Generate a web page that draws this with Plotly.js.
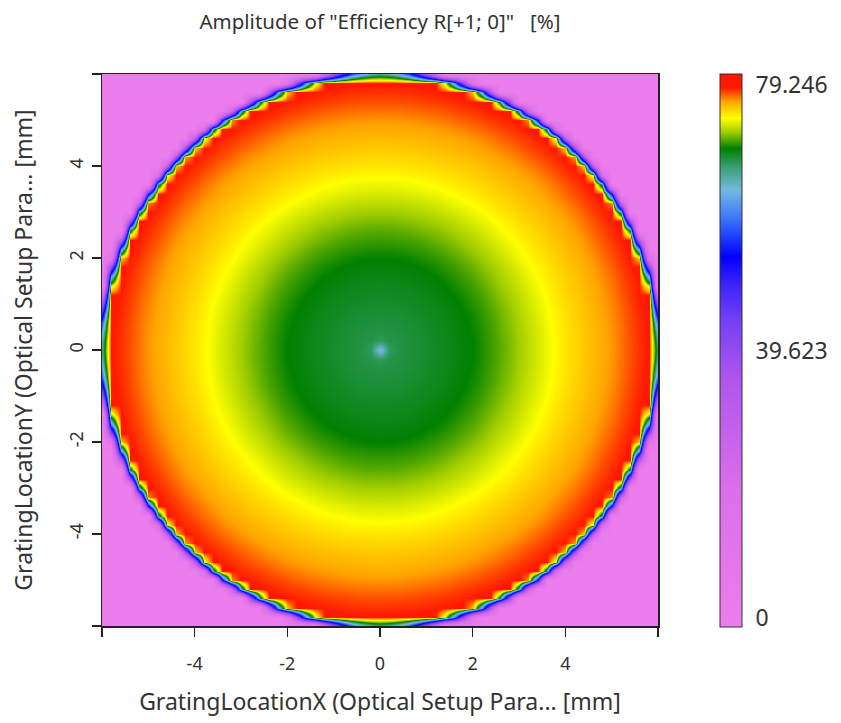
<!DOCTYPE html>
<html><head><meta charset="utf-8">
<script src="https://cdn.plot.ly/plotly-3.0.1.min.js"></script>
<style>html,body{margin:0;padding:0;background:#fff;}</style>
</head><body><div id="chart" style="width:841px;height:723px;"></div>
<script>
// Radial profile of the efficiency (radius in mm -> value in %)
const profileRadius = [0, 0.2, 0.3, 0.5, 1.0, 1.5, 2.0, 2.5, 3.0, 3.5, 4.0, 4.5, 5.0, 5.5, 5.92, 5.98, 6.04, 6.1, 6.16];
const profileValue  = [63.0, 67.6, 68.2, 68.3, 68.8, 69.3, 69.9, 71.0, 72.4, 73.8, 75.1, 76.1, 77.1, 78.4, 79.246, 72.0, 55.0, 30.0, 0];
const outsideValue = 0;
const gridMin = -6, gridMax = 6, gridCount = 61;

const axisTickVals = [-6, -4, -2, 0, 2, 4, 6];
const axisTickText = ['', '-4', '-2', '0', '2', '4', ''];
const cbTickVals = [0, 39.623, 79.246];
const cbTickText = ['0', '39.623', '79.246'];

const titleText = 'Amplitude of "Efficiency R[+1; 0]"\u00a0\u00a0 [%]';
const xTitle = 'GratingLocationX (Optical Setup Para... [mm]';
const yTitle = 'GratingLocationY (Optical Setup Para... [mm]';

function profileAt(r) {
  const last = profileRadius.length - 1;
  if (r >= profileRadius[last]) return outsideValue;
  for (let i = 1; i <= last; i++) {
    if (r <= profileRadius[i]) {
      const t = (r - profileRadius[i-1]) / (profileRadius[i] - profileRadius[i-1]);
      return profileValue[i-1] + t * (profileValue[i] - profileValue[i-1]);
    }
  }
  return outsideValue;
}

const gx = [];
for (let i = 0; i < gridCount; i++) gx.push(gridMin + i * (gridMax - gridMin) / (gridCount - 1));
const gy = gx.slice();
const z = gy.map(y => gx.map(x => profileAt(Math.hypot(x, y))));

const colorscale = [
  [0, 'rgb(236,126,236)'],
  [0.25, 'rgb(220,110,234)'],
  [0.45, 'rgb(175,85,238)'],
  [0.55, 'rgb(120,65,245)'],
  [0.62, 'rgb(60,35,250)'],
  [0.67, 'rgb(0,0,255)'],
  [0.74, 'rgb(60,120,250)'],
  [0.79, 'rgb(115,185,225)'],
  [0.83, 'rgb(60,160,120)'],
  [0.865, 'rgb(0,128,0)'],
  [0.895, 'rgb(160,205,0)'],
  [0.92, 'rgb(255,255,0)'],
  [0.95, 'rgb(255,165,0)'],
  [0.975, 'rgb(255,25,0)'],
  [1, 'rgb(255,20,0)']
];

const fontFam = 'Noto Sans, Open Sans, sans-serif';
const trace = {
  type: 'heatmap', x: gx, y: gy, z: z,
  zsmooth: 'best', colorscale: colorscale,
  zmin: -1.34, zmax: 81.0,
  colorbar: {
    thickness: 22, thicknessmode: 'pixels',
    len: 553, lenmode: 'pixels', ypad: 0, xpad: 0,
    x: 1.1115, xanchor: 'left', xref: 'paper',
    y: 0.5, yanchor: 'middle',
    outlinewidth: 1, outlinecolor: '#333',
    tickvals: cbTickVals, ticktext: cbTickText,
    ticks: 'outside', ticklen: 9, tickcolor: 'rgba(0,0,0,0)',
    tickfont: {size: 23, color: '#333', family: fontFam}
  }
};

const axisCommon = {
  range: [-6, 6], tickvals: axisTickVals, ticktext: axisTickText,
  ticks: 'outside', ticklen: 9, tickwidth: 1.5, tickcolor: '#222',
  showline: true, mirror: true, linecolor: '#222', linewidth: 1.5,
  showgrid: false, zeroline: false,
  tickfont: {size: 18, color: '#333', family: fontFam}
};

const layout = {
  width: 841, height: 723,
  margin: {l: 102, r: 183, t: 74, b: 97},
  paper_bgcolor: '#fff', plot_bgcolor: '#fff',
  font: {family: fontFam, color: '#333'},
  title: {text: titleText, x: 0.5, xref: 'paper', xanchor: 'center',
          y: 1 - 22/723, yref: 'container', yanchor: 'middle',
          font: {size: 20.5, color: '#333', family: fontFam}},
  xaxis: Object.assign({}, axisCommon, {
    ticklabelstandoff: 12,
    title: {text: xTitle, font: {size: 23, color: '#333', family: fontFam}, standoff: 20}
  }),
  yaxis: Object.assign({}, axisCommon, {
    tickangle: -90, ticklabelstandoff: 1,
    title: {text: yTitle, font: {size: 23, color: '#333', family: fontFam}, standoff: 25}
  })
};

Plotly.newPlot('chart', [trace], layout, {displayModeBar: false, staticPlot: true});
</script></body></html>
